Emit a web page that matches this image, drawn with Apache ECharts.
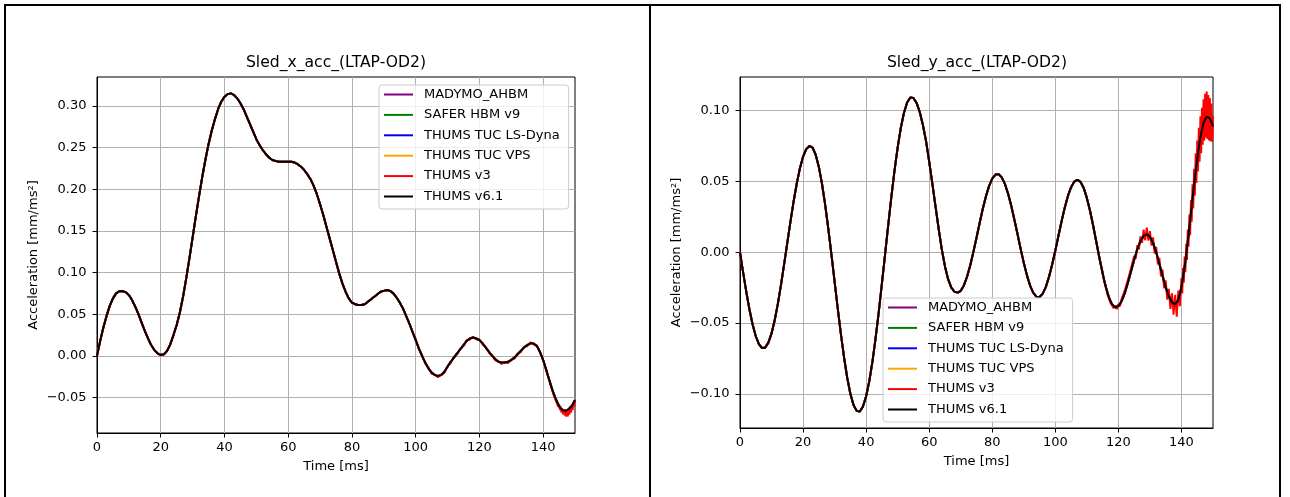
<!DOCTYPE html>
<html>
<head>
<meta charset="utf-8">
<script src="https://cdn.jsdelivr.net/npm/echarts@6/dist/echarts.min.js"></script>
<style>
html,body{margin:0;padding:0;background:#fff;}
#wrap{position:relative;width:1290px;height:497px;overflow:hidden;background:#fff;}
#chart{position:absolute;left:0;top:0;width:1290px;height:497px;}
.bd{position:absolute;background:#000;pointer-events:none;}
</style>
</head>
<body>
<div id="wrap">
  <div id="chart"></div>
  <div class="bd" style="left:4px;top:4px;width:1277px;height:2px"></div>
  <div class="bd" style="left:4px;top:4px;width:2px;height:493px"></div>
  <div class="bd" style="left:649px;top:4px;width:2px;height:493px"></div>
  <div class="bd" style="left:1279px;top:4px;width:2px;height:493px"></div>
</div>
<script>
// ---------------- data ----------------
const seriesNames = ['MADYMO_AHBM', 'SAFER HBM v9', 'THUMS TUC LS-Dyna', 'THUMS TUC VPS', 'THUMS v3', 'THUMS v6.1'];
const seriesColors = ['#800080', '#008000', '#0000ff', '#ffa500', '#ff0000', '#000000'];

const xTicks = [0, 20, 40, 60, 80, 100, 120, 140];
const leftYTicks = [-0.05, 0, 0.05, 0.10, 0.15, 0.20, 0.25, 0.30];
const rightYTicks = [-0.10, -0.05, 0, 0.05, 0.10];

// time samples [ms]
const time = [0,1,2,3,4,5,6,7,8,9,10,11,12,13,14,15,16,17,18,19,20,21,22,23,24,25,26,27,28,29,
  30,31,32,33,34,35,36,37,38,39,40,41,42,43,44,45,46,47,48,49,50,51,52,53,54,55,56,57,58,59,
  60,61,62,63,64,65,66,67,68,69,70,71,72,73,74,75,76,77,78,79,80,81,82,83,84,85,86,87,88,89,
  90,91,92,93,94,95,96,97,98,99,100,101,102,103,104,105,106,107,108,109,110,111,112,113,114,115,116,117,118,119,
  120,121,122,123,124,125,126,127,128,129,130,131,132,133,134,135,136,137,138,139,140,141,142,143,144,145,146,147,148,149,150];

// Sled x acceleration: MADYMO, SAFER, LS-Dyna, VPS and v6.1 traces overlap (read as one trace)
const xAccV61 = [0.000,0.018,0.034,0.048,0.060,0.069,0.075,0.0775,0.0778,0.0765,
  0.073,0.067,0.059,0.050,0.040,0.030,0.021,0.013,0.007,0.003,
  0.001,0.002,0.006,0.014,0.025,0.037,0.052,0.071,0.093,0.117,
  0.142,0.167,0.191,0.214,0.235,0.254,0.270,0.284,0.296,0.305,
  0.311,0.314,0.315,0.313,0.309,0.303,0.296,0.287,0.278,0.269,
  0.260,0.253,0.247,0.242,0.238,0.235,0.234,0.233,0.233,0.233,
  0.233,0.233,0.232,0.230,0.227,0.223,0.218,0.212,0.204,0.194,
  0.182,0.169,0.155,0.141,0.127,0.113,0.099,0.087,0.077,0.069,
  0.064,0.062,0.061,0.061,0.062,0.065,0.068,0.071,0.074,0.077,
  0.078,0.079,0.078,0.075,0.070,0.064,0.057,0.048,0.039,0.029,
  0.019,0.009,0.000,-0.008,-0.015,-0.020,-0.023,-0.024,-0.023,-0.019,
  -0.013,-0.007,-0.002,0.003,0.008,0.013,0.018,0.021,0.022,0.021,
  0.019,0.015,0.010,0.005,0.000,-0.004,-0.007,-0.008,-0.008,-0.007,
  -0.005,-0.002,0.002,0.006,0.010,0.013,0.015,0.015,0.012,0.005,
  -0.005,-0.017,-0.030,-0.042,-0.052,-0.060,-0.065,-0.066,-0.064,-0.060,-0.053];
// THUMS v3 (x) noisy tail from 100 ms; before that it overlaps the others
const xAccV3TailTime = [100,101,102,103,104,105,106,107,108,109,110,111,112,113,114,115,116,117,118,119,
  120,121,122,123,124,125,126,127,128,129,130,131,132,133,134,135,136,137,138,139,140,141,142,
  142.25,142.5,142.75,143,143.25,143.5,143.75,144,144.25,144.5,144.75,145,145.25,145.5,145.75,146,
  146.25,146.5,146.75,147,147.25,147.5,147.75,148,148.25,148.5,148.75,149,149.25,149.5,149.75,150];
const xAccV3Tail = [0.0205,0.0078,0.0012,-0.0094,-0.0138,-0.0216,-0.0222,-0.0256,-0.0222,-0.0204,
  -0.0122,-0.0085,-0.0012,0.0016,0.0090,0.0116,0.0188,0.0196,0.0228,0.0198,
  0.0198,0.0136,0.0108,0.0036,0.0008,-0.0054,-0.0064,-0.0096,-0.0072,-0.0086,
  -0.0042,-0.0034,0.0028,0.0046,0.0108,0.0116,0.0162,0.0136,0.0128,0.0036,-0.0042,-0.0186,-0.0292,
  -0.0335,-0.0345,-0.0400,-0.0410,-0.0465,-0.0455,-0.0515,-0.0505,-0.0565,-0.0545,-0.0610,-0.0585,
  -0.0650,-0.0610,-0.0680,-0.0630,-0.0700,-0.0640,-0.0715,-0.0645,-0.0728,-0.0640,-0.0725,-0.0625,
  -0.0705,-0.0610,-0.0680,-0.0585,-0.0650,-0.0560,-0.0610,-0.0530];

// Sled y acceleration: MADYMO, SAFER, LS-Dyna, VPS and v6.1 traces overlap (read as one trace)
const yAccV61 = [0,-0.0143,-0.0280,-0.0404,-0.0510,-0.0593,-0.0649,-0.0677,-0.0673,-0.0638,
  -0.0573,-0.0480,-0.0364,-0.0230,-0.0084,0.0067,0.0217,0.0359,0.0486,0.0593,
  0.0675,0.0729,0.0751,0.0740,0.0689,0.0603,0.0484,0.0336,0.0167,-0.0016,
  -0.0207,-0.0397,-0.0578,-0.0743,-0.0886,-0.0999,-0.1078,-0.1120,-0.1124,-0.1089,
  -0.1017,-0.0910,-0.0772,-0.0607,-0.0422,-0.0222,-0.0016,0.0191,0.0391,0.0576,
  0.0741,0.0879,0.0986,0.1058,0.1093,0.1090,0.1055,0.0991,0.0899,0.0785,
  0.0640,0.0485,0.0325,0.0165,0.0020,-0.0100,-0.0190,-0.0250,-0.0278,-0.0285,
  -0.0272,-0.0234,-0.0173,-0.0093,0.0001,0.0103,0.0207,0.0307,0.0396,0.0469,
  0.0520,0.0549,0.0552,0.0529,0.0483,0.0415,0.0330,0.0232,0.0129,0.0024,
  -0.0075,-0.0163,-0.0235,-0.0286,-0.0313,-0.0316,-0.0292,-0.0244,-0.0173,-0.0086,
  0.0013,0.0118,0.0221,0.0317,0.0398,0.0460,0.0499,0.0512,0.0497,0.0454,
  0.0384,0.0293,0.0187,0.0073,-0.0042,-0.0150,-0.0245,-0.0318,-0.0368,-0.0388,
  -0.0380,-0.0346,-0.0290,-0.0217,-0.0135,-0.0053,0.0021,0.0080,0.0116,0.0127,
  0.0109,0.0065,-0.0002,-0.0082,-0.0167,-0.0247,-0.0311,-0.0353,-0.0368,-0.0337,
  -0.0246,-0.0104,0.0075,0.0276,0.0478,0.0662,0.0813,0.0915,0.0959,0.0945,0.0890];
// THUMS v3 (y) noisy tail from 115 ms
const yAccV3TailTime = [115,115.5,116,116.5,117,117.5,118,118.5,119,119.5,120,120.5,121,121.5,122,122.5,
  123,123.5,124,124.5,125,125.5,126,126.5,127,127.5,128,128.5,129,129.5,130,130.5,131,131.5,132,132.5,
  133,133.5,134,134.5,135,135.5,136,136.5,137,137.5,138,138.5,139,139.5,140,
  140.25,140.5,140.75,141,141.25,141.5,141.75,142,142.25,142.5,142.75,143,143.25,143.5,143.75,144,
  144.25,144.5,144.75,145,145.25,145.5,145.75,146,146.25,146.5,146.75,147,147.25,147.5,147.75,148,
  148.25,148.5,148.75,149,149.25,149.5,149.75,150];
const yAccV3Tail = [-0.0138,-0.0212,-0.0233,-0.0298,-0.0305,-0.0358,-0.0356,-0.0395,-0.0376,-0.0402,
  -0.0366,-0.0381,-0.0330,-0.0339,-0.0271,-0.0276,-0.0195,-0.0199,-0.0112,-0.0121,
  -0.0027,-0.0045,0.0050,0.0021,0.0112,0.0066,0.0160,0.0085,0.0175,0.0082,
  0.0150,0.0048,0.0105,-0.0008,0.0038,-0.0085,-0.0040,-0.0170,-0.0122,-0.0255,
  -0.0198,-0.0335,-0.0258,-0.0400,-0.0290,-0.0440,-0.0300,-0.0455,-0.0270,-0.0380,-0.0180,
  -0.0290,-0.0110,-0.0215,-0.0030,-0.0140,0.0060,-0.0055,0.0160,0.0040,0.0265,0.0120,0.0370,
  0.0215,0.0480,0.0310,0.0590,0.0400,0.0700,0.0490,0.0790,0.0570,0.0880,0.0640,0.0960,
  0.0700,0.1020,0.0760,0.1080,0.0790,0.1120,0.0810,0.1135,0.0800,0.1110,0.0790,0.1090,
  0.0785,0.1050,0.0780,0.0960];

// ---------------- build ----------------
const FONT = 'DejaVu Sans';
function pairs(t, v) { return t.map((x, i) => [x, v[i]]); }
function withTail(t, v, tt, tv) {
  const out = [];
  for (let i = 0; i < t.length; i++) if (t[i] < tt[0]) out.push([t[i], v[i]]);
  return out.concat(pairs(tt, tv));
}
const xMain = pairs(time, xAccV61);
const yMain = pairs(time, yAccV61);
const xV3 = withTail(time, xAccV61, xAccV3TailTime, xAccV3Tail);
const yV3 = withTail(time, yAccV61, yAccV3TailTime, yAccV3Tail);

function fmtY(v) {
  const s = Math.abs(v) < 1e-9 ? '0.00' : v.toFixed(2);
  return s.replace('-', '\u2212');
}

function mkSeries(idx, data, gi) {
  return {
    type: 'line', name: seriesNames[idx], xAxisIndex: gi, yAxisIndex: gi,
    data: data, symbol: 'none', showSymbol: false, silent: true, clip: true,
    lineStyle: { color: seriesColors[idx], width: 1.95 },
    itemStyle: { color: seriesColors[idx] },
    emphasis: { disabled: true }
  };
}

const series = [];
[xMain, xMain, xMain, xMain, xV3, xMain].forEach((d, i) => series.push(mkSeries(i, d, 0)));
[yMain, yMain, yMain, yMain, yV3, yMain].forEach((d, i) => series.push(mkSeries(i, d, 1)));

function xAxisCfg(gi) {
  return {
    type: 'value', gridIndex: gi, min: 0, max: 150,
    name: 'Time [ms]', nameLocation: 'middle', nameGap: 27,
    nameTextStyle: { fontFamily: FONT, fontSize: 13, color: '#000' },
    axisLine: { show: true, onZero: false, lineStyle: { color: '#000', width: 1 } },
    axisTick: { show: true, inside: false, length: 4.5, customValues: xTicks, lineStyle: { color: '#000', width: 1 } },
    axisLabel: { show: true, margin: 8, customValues: xTicks, fontFamily: FONT, fontSize: 13, color: '#000',
      formatter: v => String(v) },
    splitLine: { show: true, lineStyle: { color: '#b0b0b0', width: 1 } }
  };
}
function yAxisCfg(gi, mn, mx, ticks) {
  return {
    type: 'value', gridIndex: gi, min: mn, max: mx,
    name: 'Acceleration [mm/ms\u00b2]', nameLocation: 'middle', nameGap: 57, nameRotate: 90,
    nameTextStyle: { fontFamily: FONT, fontSize: 13, color: '#000' },
    axisLine: { show: true, onZero: false, lineStyle: { color: '#000', width: 1 } },
    axisTick: { show: true, inside: false, length: 4.5, customValues: ticks, lineStyle: { color: '#000', width: 1 } },
    axisLabel: { show: true, margin: 10.5, customValues: ticks, fontFamily: FONT, fontSize: 13, color: '#000',
      formatter: fmtY },
    splitLine: { show: true, lineStyle: { color: '#b0b0b0', width: 1 } }
  };
}
function legendCfg(left, top) {
  return {
    orient: 'vertical', left: left, top: top,
    data: seriesNames, selectedMode: false,
    itemWidth: 29, itemHeight: 14, itemGap: 7.4,
    padding: [3, 9, 6, 4],
    itemStyle: { opacity: 0, borderWidth: 0 },
    lineStyle: { width: 2 },
    backgroundColor: 'rgba(255,255,255,0.8)', borderColor: '#cccccc', borderWidth: 1, borderRadius: 3,
    textStyle: { fontFamily: FONT, fontSize: 13, color: '#000', padding: [0, 0, 0, 6] }
  };
}

const chart = echarts.init(document.getElementById('chart'), null, { renderer: 'canvas', width: 1290, height: 497 });
chart.setOption({
  animation: false,
  backgroundColor: '#fff',
  textStyle: { fontFamily: FONT },
  grid: [
    { left: 97, top: 77, width: 478, height: 356, show: true, borderColor: '#000', borderWidth: 1, backgroundColor: 'transparent' },
    { left: 740, top: 77, width: 473, height: 351, show: true, borderColor: '#000', borderWidth: 1, backgroundColor: 'transparent' }
  ],
  xAxis: [xAxisCfg(0), xAxisCfg(1)],
  yAxis: [yAxisCfg(0, -0.0925, 0.3346, leftYTicks), yAxisCfg(1, -0.1241, 0.1238, rightYTicks)],
  legend: [legendCfg(379, 85), legendCfg(883, 298)],
  graphic: [
    { type: 'text', x: 336, y: 63, style: { text: 'Sled_x_acc_(LTAP-OD2)', fontFamily: FONT, fontSize: 15.6, fill: '#000', textAlign: 'center', textVerticalAlign: 'middle' } },
    { type: 'text', x: 977, y: 63, style: { text: 'Sled_y_acc_(LTAP-OD2)', fontFamily: FONT, fontSize: 15.6, fill: '#000', textAlign: 'center', textVerticalAlign: 'middle' } }
  ],
  series: series
});
</script>
</body>
</html>
